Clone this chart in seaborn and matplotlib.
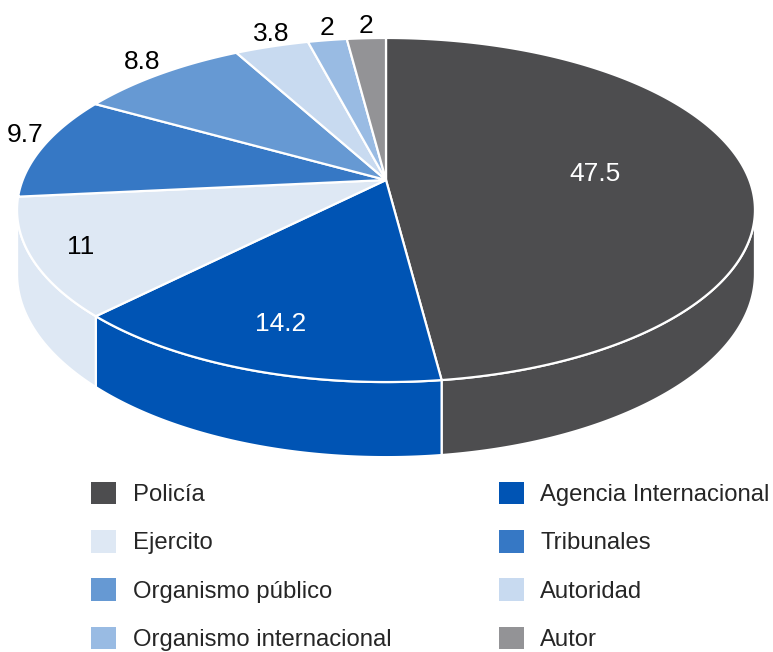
import numpy as np
import matplotlib
matplotlib.use("Agg")
import matplotlib.pyplot as plt
from matplotlib.patches import Polygon, Patch
import seaborn as sns

# ---------------- data ----------------
categories = ["Policía", "Agencia Internacional", "Ejercito", "Tribunales",
              "Organismo público", "Autoridad", "Organismo internacional", "Autor"]
values = [47.5, 14.2, 11, 9.7, 8.8, 3.8, 2, 2]
value_labels = ["47.5", "14.2", "11", "9.7", "8.8", "3.8", "2", "2"]

# ---------------- style ----------------
colors = ["#4D4D4F", "#0054B4", "#DEE8F4", "#3678C5",
          "#6699D3", "#C8DAF0", "#99BBE3", "#939396"]
label_radius = [0.58, 0.79, 0.87, 1.0, 1.0, 1.0, 1.0, 1.0]

sns.set_theme(style="white")
plt.rcParams["font.family"] = ["Liberation Sans", "DejaVu Sans"]

W, H = 773, 652
fig = plt.figure(figsize=(W / 100, H / 100), dpi=100)
ax = fig.add_axes([0, 0, 1, 1])
ax.set_xlim(0, W)
ax.set_ylim(H, 0)
ax.axis("off")

# perspective projection of the pie disc
CX, CY = 386.0, 180.0
A, B, K, D = 363.3, 166.8, 0.1744, 62.0


def proj(r, phi):
    u, v = r * np.cos(phi), r * np.sin(phi)
    den = 1 + K * v
    return CX + A * u / den, CY - B * v / den


def proj_bottom(phi):
    x, y = proj(1.0, phi)
    return x, y + D / (1 + K * np.sin(phi))


vals = np.array(values, dtype=float)
frac = vals / vals.sum()
cum = np.concatenate([[0], np.cumsum(frac)])
starts = np.deg2rad(90 - 360 * cum[:-1])
ends = np.deg2rad(90 - 360 * cum[1:])

# front-facing range of the outer wall
lim = np.arcsin(K)
front_lo, front_hi = -np.pi + lim, -lim
EDGE = dict(edgecolor="white", linewidth=1.6, joinstyle="round")

# walls (draw only front-facing part)
for i in range(len(values)):
    a0, a1 = ends[i], starts[i]  # a0 < a1
    for shift in (0, -2 * np.pi, 2 * np.pi):
        lo, hi = a0 + shift, a1 + shift
        lo2, hi2 = max(lo, front_lo), min(hi, front_hi)
        if hi2 > lo2:
            ph = np.linspace(lo2, hi2, 120)
            top = np.array([proj(1.0, p) for p in ph])
            bot = np.array([proj_bottom(p) for p in ph])
            poly = np.vstack([top, bot[::-1]])
            ax.add_patch(Polygon(poly, closed=True, facecolor=colors[i], **EDGE, zorder=2))

# top faces
for i in range(len(values)):
    ph = np.linspace(starts[i], ends[i], 200)
    arc = np.array([proj(1.0, p) for p in ph])
    poly = np.vstack([[CX, CY], arc])
    ax.add_patch(Polygon(poly, closed=True, facecolor=colors[i], **EDGE, zorder=3))


def lum(hexc):
    r, g, b = matplotlib.colors.to_rgb(hexc)
    return 0.299 * r + 0.587 * g + 0.114 * b


# data labels
for i, txt in enumerate(value_labels):
    mid = (starts[i] + ends[i]) / 2
    r = label_radius[i]
    x, y = proj(r, mid)
    if r < 1:
        col = "white" if lum(colors[i]) < 0.5 else "black"
        ax.text(x, y, txt, ha="center", va="center", fontsize=19, color=col, zorder=5)
    else:
        u, v = np.cos(mid), np.sin(mid)
        ha = "right" if u < -0.5 else ("left" if u > 0.5 else "center")
        va = "bottom" if v > 0.2 else ("top" if v < -0.2 else "center")
        ax.text(x, y, txt, ha=ha, va=va, fontsize=19, color="black", zorder=5)

# legend (two columns, filled row-wise)
order = [0, 2, 4, 6, 1, 3, 5, 7]
handles = [Patch(facecolor=colors[j], edgecolor="none") for j in order]
labels = [categories[j] for j in order]
fig.legend(handles, labels, loc="upper left",
           bbox_to_anchor=(91 / W, 1 - 482 / H), ncol=2, frameon=False,
           fontsize=17.2, handlelength=1.06, handleheight=1.06,
           handletextpad=0.68, columnspacing=4.5, labelspacing=1.0,
           borderpad=0, borderaxespad=0)

fig.savefig("out.png", dpi=100)
